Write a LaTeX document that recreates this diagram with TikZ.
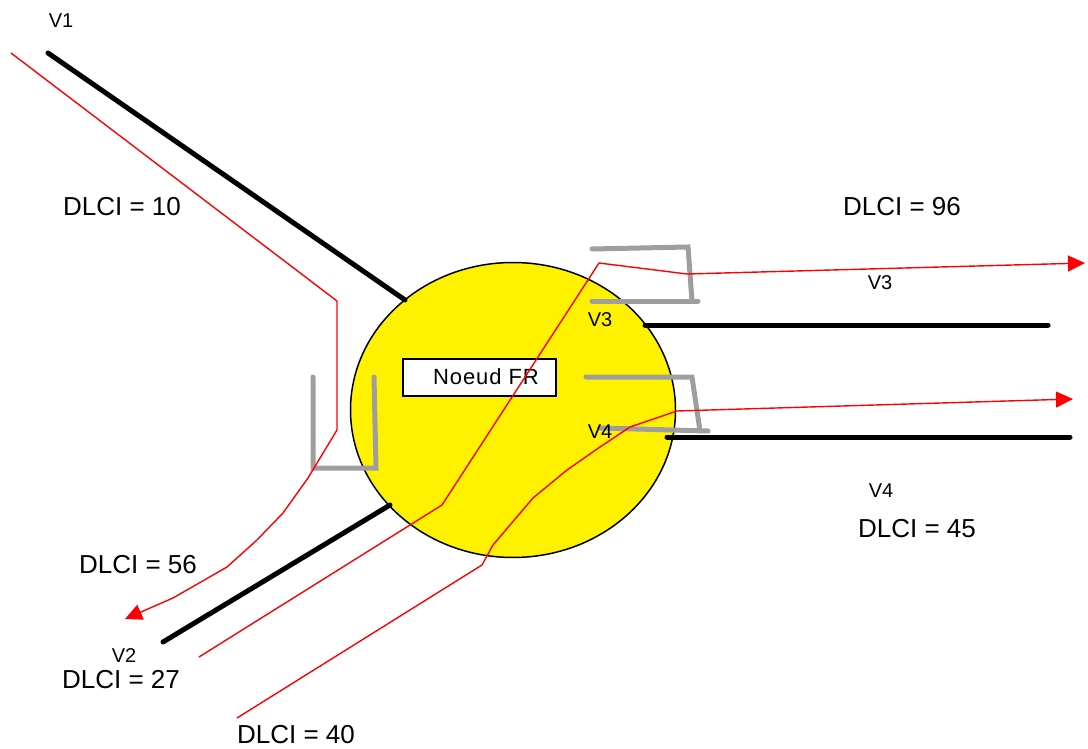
\documentclass[tikz,border=0pt]{standalone}
\usepackage{fontspec}
\setmainfont{Liberation Sans}
\usetikzlibrary{arrows.meta,shapes.geometric}
\begin{document}
\begin{tikzpicture}[x=1pt,y=-1pt,
  link/.style={line width=5pt,line cap=round,black},
  vcbox/.style={line width=5pt,line cap=round,line join=miter,color={rgb,255:red,158;green,158;blue,158}},
  vcpath/.style={line width=1.4pt,red,line join=round},
  vcarrow/.style={vcpath,-{Triangle[length=17pt,width=16pt]}},
  dlci/.style={inner sep=0pt,font=\fontsize{26}{30}\selectfont},
  vlab/.style={inner sep=0pt,font=\fontsize{20}{24}\selectfont}]
\useasboundingbox (0,0) rectangle (1088,749);

% frame relay switch
\node[ellipse,draw,line width=1.5pt,fill=yellow,minimum width=325pt,minimum height=295pt,inner sep=0pt] (fr) at (513,410) {};
\node[draw,line width=1.2pt,fill=white,minimum width=153pt,minimum height=37pt,inner sep=0pt] (box) at (479.5,377.5) {};
\node[inner sep=0pt,font=\fontsize{22}{26}\selectfont\addfontfeature{LetterSpace=4}] (lbox) at (486,377) {Noeud FR};

% access links
\coordinate (v1a) at (48,53);   \coordinate (v1b) at (405,300);
\coordinate (v2a) at (163,642); \coordinate (v2b) at (390,505);
\coordinate (v3a) at (645,325); \coordinate (v3b) at (1048,325);
\coordinate (v4a) at (667,437); \coordinate (v4b) at (1070,437);
\draw[link] (v1a) -- (v1b);
\draw[link] (v2a) -- (v2b);
\draw[link] (v3a) -- (v3b);
\draw[link] (v4a) -- (v4b);

% switching brackets
\draw[vcbox] (313,377) -- (313,468) -- (376,468) -- (374,377);
\draw[vcbox] (592,249) -- (688,247) -- (692,301);
\draw[vcbox] (592,301) -- (698,301);
\draw[vcbox] (586,377) -- (692,377) -- (700,431);
\draw[vcbox] (600,428) -- (708,431);

% virtual circuits
\coordinate (p1s) at (11,53);   \coordinate (p1e) at (125,619);
\coordinate (p2s) at (199,657); \coordinate (p2e) at (1085,263);
\coordinate (p3s) at (237,718); \coordinate (p3e) at (1073,399);
\draw[vcarrow] (p1s) -- (337,301) -- (337,430) -- (308,478) -- (283,513)
  -- (257,540) -- (227,567) -- (173,598) -- (p1e);
\draw[vcarrow] (p2s) -- (442,505) -- (599,263) -- (687,274) -- (p2e);
\draw[vcarrow] (p3s) -- (482,565) -- (493,545) -- (533,498) -- (567,470)
  -- (600,447) -- (630,427) -- (677,411) -- (p3e);

% labels
\node[vlab] (lv1) at (61,21) {V1};
\node[dlci] (d10) at (122,207) {DLCI = 10};
\node[dlci] (d96) at (902,207) {DLCI = 96};
\node[vlab] (lv3r) at (880,283) {V3};
\node[vlab] (lv3) at (600,320) {V3};
\node[vlab] (lv4) at (600,432) {V4};
\node[vlab] (lv4r) at (881,491) {V4};
\node[dlci] (d45) at (917,529) {DLCI = 45};
\node[dlci] (d56) at (138,565) {DLCI = 56};
\node[vlab] (lv2) at (124,656) {V2};
\node[dlci] (d27) at (121,680) {DLCI = 27};
\node[dlci] (d40) at (296,735) {DLCI = 40};
\end{tikzpicture}
\end{document}
